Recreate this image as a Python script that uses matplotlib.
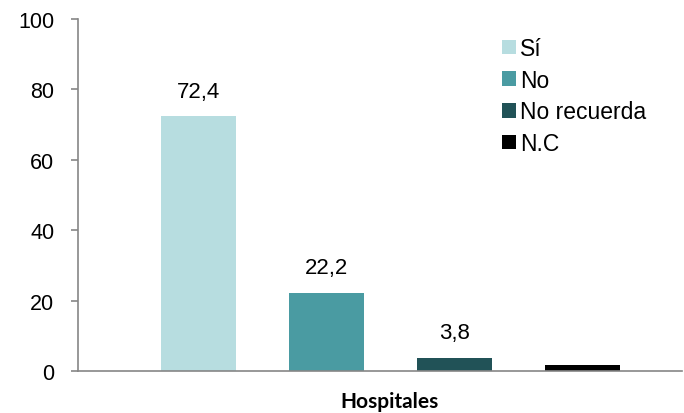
import matplotlib
matplotlib.use("Agg")
import matplotlib.pyplot as plt
from matplotlib.patches import Patch

categories = ["Sí", "No", "No recuerda", "N.C"]
values = [72.4, 22.2, 3.8, 1.6]
value_labels = ["72,4", "22,2", "3,8", None]
colors = ["#B7DDE0", "#4A9BA2", "#215257", "#000000"]
yticks = [0, 20, 40, 60, 80, 100]
xlabel = "Hospitales"

plt.rcParams['font.family'] = ['Liberation Sans', 'DejaVu Sans']

fig = plt.figure(figsize=(6.84, 4.14), dpi=100)
ax = fig.add_axes([78/684, 1-372/414, (682-78)/684, (372-20)/414])

pos = [0, 1, 2, 3]
w = 75/128
ax.bar(pos, values, width=w, color=colors)
for p, v, lab in zip(pos, values, value_labels):
    if lab:
        ax.annotate(lab, (p, v), xytext=(0, 10.5), textcoords="offset points",
                    ha="center", va="bottom", fontsize=16)

ax.set_ylim(0, 100)
ax.set_xlim((78-198.5)/128, (682-198.5)/128)
ax.set_yticks(yticks)
ax.set_yticklabels([str(t) for t in yticks], fontsize=15.5)
ax.set_xticks([])
for s in ["top", "right"]:
    ax.spines[s].set_visible(False)
for s in ["left", "bottom"]:
    ax.spines[s].set_color("#868686")
    ax.spines[s].set_linewidth(1.2)
ax.tick_params(axis="y", length=5, color="#868686", width=1.2, pad=12)

fig.text(390/684, 1-402/414, xlabel, ha="center", va="center",
         fontsize=15, fontweight="bold", family=["Lato", "DejaVu Sans"])

handles = [Patch(facecolor=c, edgecolor="none") for c in colors]
ax.legend(handles, categories, loc="upper left",
          bbox_to_anchor=((502-78)/604, 1-(38-20)/352),
          frameon=False, fontsize=16.5, handlelength=0.62, handleheight=0.62,
          handletextpad=0.18, labelspacing=0.38, borderaxespad=0, borderpad=0)

fig.savefig("out.png", dpi=100)
